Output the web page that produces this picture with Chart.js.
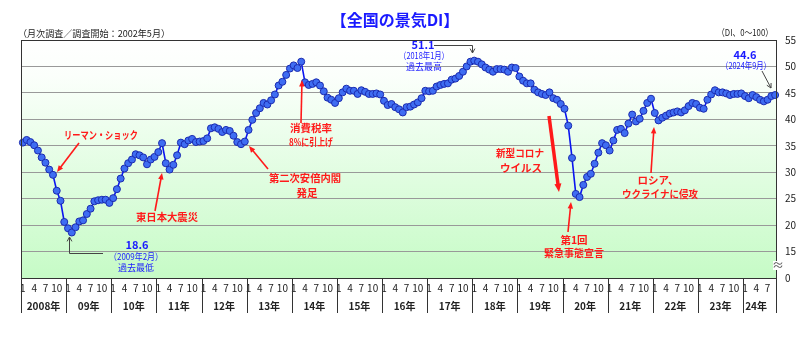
<!DOCTYPE html>
<html>
<head>
<meta charset="utf-8">
<script src="https://cdn.jsdelivr.net/npm/chart.js@4.4.1/dist/chart.umd.min.js"></script>
<style>
  html, body { margin: 0; padding: 0; background: #fff; }
  #wrap { width: 800px; height: 344px; }
</style>
</head>
<body>
<div id="wrap"><canvas id="chart" width="800" height="344"></canvas></div>
<script>
// categories: one point a month, Jan 2008 .. Sep 2024
const startYear = 2008;
const lastMonth = 9;
const yearNames = ['2008年', '09年', '10年', '11年', '12年', '13年', '14年', '15年', '16年',
                   '17年', '18年', '19年', '20年', '21年', '22年', '23年', '24年'];
const monthTicks = [1, 4, 7, 10];
const yZeroLabel = '0';   // the axis is broken: the 10 line is labelled 0

// 景気DI
const diValues = [
  35.6, 36.1, 35.7, 35.1, 34.1, 32.8, 31.8, 30.5, 29.5, 26.5, 24.6, 20.6,   // 2008
  19.4, 18.6, 19.6, 20.7, 20.9, 22.1, 23.1, 24.5, 24.7, 24.8, 24.8, 24.2,   // 2009
  25.1, 26.8, 28.8, 30.7, 31.7, 32.4, 33.4, 33.2, 32.8, 31.5, 32.4, 32.9,   // 2010
  33.8, 35.5, 31.7, 30.5, 31.4, 33.2, 35.6, 35.3, 36.0, 36.3, 35.7, 35.8,   // 2011
  35.9, 36.4, 38.3, 38.5, 38.2, 37.6, 38.0, 37.8, 36.9, 35.7, 35.3, 35.8,   // 2012
  38.0, 39.9, 41.2, 42.1, 43.1, 42.8, 43.6, 44.7, 46.4, 47.1, 48.4, 49.6,   // 2013
  50.2, 49.7, 50.9, 47.0, 46.5, 46.7, 47.0, 46.4, 45.3, 44.1, 43.7, 43.1,   // 2014
  44.0, 45.1, 45.8, 45.4, 45.4, 44.8, 45.5, 45.2, 44.8, 44.8, 44.9, 44.7,   // 2015
  43.5, 42.7, 42.9, 42.3, 41.9, 41.3, 42.3, 42.4, 42.8, 43.2, 44.0, 45.4,   // 2016
  45.3, 45.4, 46.2, 46.5, 46.7, 46.8, 47.5, 47.7, 48.2, 49.0, 50.0, 50.9,   // 2017
  51.1, 50.9, 50.4, 49.8, 49.4, 49.0, 49.5, 49.5, 49.4, 49.0, 49.8, 49.7,   // 2018
  48.1, 47.3, 46.8, 46.8, 45.6, 45.1, 44.8, 44.6, 45.1, 44.0, 43.7, 42.9,   // 2019
  42.0, 38.8, 32.7, 25.9, 25.3, 27.6, 29.1, 29.7, 31.6, 33.7, 35.5, 35.1,   // 2020
  34.1, 36.0, 38.0, 38.2, 37.4, 39.2, 40.9, 39.6, 40.1, 41.6, 43.1, 43.9,   // 2021
  41.2, 39.8, 40.3, 40.7, 41.1, 41.3, 41.5, 41.3, 41.7, 42.5, 43.1, 42.9,   // 2022
  42.2, 42.0, 43.7, 44.7, 45.5, 45.1, 45.1, 44.9, 44.6, 44.8, 44.8, 44.9,   // 2023
  44.4, 44.0, 44.6, 44.2, 43.7, 43.4, 43.7, 44.4, 44.6                      // 2024
];

const monthLabels = [];
for (let y = 0; y < yearNames.length; y++) {
    const n = (y === yearNames.length - 1) ? lastMonth : 12;
    for (let m = 1; m <= n; m++) monthLabels.push(m);
}

const JP = "'Noto Sans CJK JP', 'Noto Sans', sans-serif";
const RED = '#ff1a1a';
const BLUE = '#1a1aff';

function txt(c, s, x, y, size, color, bold, maxW) {
    c.font = (bold ? 'bold ' : '') + size + 'px ' + JP;
    c.fillStyle = color;
    c.textAlign = 'center';
    c.textBaseline = 'middle';
    if (maxW) c.fillText(s, x, y, maxW); else c.fillText(s, x, y);
}

function arrow(c, x1, y1, x2, y2, color, w, head) {
    const a = Math.atan2(y2 - y1, x2 - x1);
    c.strokeStyle = color;
    c.fillStyle = color;
    c.lineWidth = w;
    c.beginPath();
    c.moveTo(x1, y1);
    c.lineTo(x2 - Math.cos(a) * head * 0.8, y2 - Math.sin(a) * head * 0.8);
    c.stroke();
    c.beginPath();
    c.moveTo(x2, y2);
    c.lineTo(x2 - head * Math.cos(a - 0.4), y2 - head * Math.sin(a - 0.4));
    c.lineTo(x2 - head * Math.cos(a + 0.4), y2 - head * Math.sin(a + 0.4));
    c.closePath();
    c.fill();
}

function chevron(c, x, y, a, color) {
    c.strokeStyle = color;
    c.lineWidth = 1;
    c.beginPath();
    c.moveTo(x - 5 * Math.cos(a - 0.5), y - 5 * Math.sin(a - 0.5));
    c.lineTo(x, y);
    c.lineTo(x - 5 * Math.cos(a + 0.5), y - 5 * Math.sin(a + 0.5));
    c.stroke();
}

const backdrop = {
    id: 'backdrop',
    beforeDraw(chart) {
        const { ctx: c, chartArea: a } = chart;
        const g = c.createLinearGradient(0, a.top, 0, a.bottom);
        g.addColorStop(0, '#ffffff');
        g.addColorStop(0.15, '#fbfffb');
        g.addColorStop(1, '#c6fbc6');
        c.save();
        c.fillStyle = g;
        c.fillRect(a.left, a.top, a.right - a.left, a.bottom - a.top);
        c.restore();
    }
};

const decor = {
    id: 'decor',
    afterDraw(chart) {
        const { ctx: c, chartArea: a } = chart;
        const xs = chart.scales.x;
        const half = (xs.getPixelForValue(1) - xs.getPixelForValue(0)) / 2;
        c.save();

        // frame
        c.strokeStyle = '#333';
        c.lineWidth = 1;
        c.strokeRect(a.left + 0.5, a.top + 0.5, a.right - a.left - 1, a.bottom - a.top);

        // year separators and names
        let idx = 0;
        c.strokeStyle = '#333';
        for (let y = 0; y < yearNames.length; y++) {
            const n = (y === yearNames.length - 1) ? lastMonth : 12;
            const x0 = xs.getPixelForValue(idx) - half;
            const x1 = xs.getPixelForValue(idx + n - 1) + half;
            c.beginPath();
            c.moveTo(Math.round(x0) + 0.5, a.bottom);
            c.lineTo(Math.round(x0) + 0.5, a.bottom + 35);
            c.stroke();
            txt(c, yearNames[y], (x0 + Math.min(x1, x0 + 45)) / 2 + (y === yearNames.length - 1 ? -4 : 0), a.bottom + 28, 10, '#222', true);
            idx += n;
        }
        c.beginPath();
        c.moveTo(a.right - 0.5, a.bottom);
        c.lineTo(a.right - 0.5, a.bottom + 35);
        c.stroke();

        // axis break mark
        c.fillStyle = '#fff';
        c.fillRect(a.right - 4, 261, 8, 9);
        txt(c, '≈', a.right + 1, 265, 12, '#555', false);

        // headings
        txt(c, '【全国の景気DI】', 395, 20, 16, BLUE, true);
        txt(c, '（月次調査／調査開始：2002年5月）', 94, 33, 9.5, '#222', false, 152);
        txt(c, '（DI、0～100）', 745, 32, 9.5, '#222', false, 56);

        // record / latest callouts
        txt(c, '18.6', 137, 245, 11, BLUE, true);
        txt(c, '（2009年2月）', 136, 257, 9, BLUE, false, 54);
        txt(c, '過去最低', 136, 268, 9, BLUE, false);
        c.strokeStyle = '#444';
        c.lineWidth = 1;
        c.beginPath();
        c.moveTo(69.5, 237); c.lineTo(69.5, 253.5); c.lineTo(103, 253.5);
        c.stroke();
        chevron(c, 69.5, 237, -Math.PI / 2, '#444');

        txt(c, '51.1', 423, 45, 11, BLUE, true);
        txt(c, '（2018年1月）', 424, 56, 9, BLUE, false, 50);
        txt(c, '過去最高', 424, 67, 9, BLUE, false);
        c.strokeStyle = '#444';
        c.beginPath();
        c.moveTo(434, 45.5); c.lineTo(472.5, 45.5); c.lineTo(472.5, 53);
        c.stroke();
        chevron(c, 472.5, 53, Math.PI / 2, '#444');

        txt(c, '44.6', 745, 55, 11, BLUE, true);
        txt(c, '（2024年9月）', 746, 66, 9, BLUE, false, 50);
        c.strokeStyle = '#444';
        c.beginPath();
        c.moveTo(762, 71); c.lineTo(771, 88);
        c.stroke();
        chevron(c, 771, 88, Math.atan2(17, 9), '#444');

        // events
        txt(c, 'リーマン・ショック', 101, 135, 10.5, RED, true, 74);
        arrow(c, 79, 143, 57, 172, RED, 1.6, 7);
        txt(c, '東日本大震災', 167, 217, 10.5, RED, true, 62);
        arrow(c, 155, 211, 162, 173, RED, 1.6, 7);
        txt(c, '第二次安倍内閣', 305, 178, 10.5, RED, true, 72);
        txt(c, '発足', 307, 193, 10.5, RED, true);
        arrow(c, 268, 169, 249, 146, RED, 1.6, 7);
        txt(c, '消費税率', 311, 128, 10.5, RED, true, 44);
        txt(c, '8%に引上げ', 311, 142, 10.5, RED, true, 44);
        arrow(c, 301, 123, 302, 80, RED, 1.6, 7);
        txt(c, '新型コロナ', 520, 153, 10.5, RED, true, 48);
        txt(c, 'ウイルス', 521, 168, 10.5, RED, true, 42);
        arrow(c, 549, 116, 559, 192, RED, 3.5, 9);
        txt(c, '第1回', 574, 240, 10.5, RED, true);
        txt(c, '緊急事態宣言', 574, 253, 10.5, RED, true, 60);
        arrow(c, 568, 232, 571, 202, RED, 1.6, 7);
        txt(c, 'ロシア、', 658, 180, 10.5, RED, true, 44);
        txt(c, 'ウクライナに侵攻', 660, 194, 10.5, RED, true, 76);
        arrow(c, 651, 173, 654, 127, RED, 1.6, 7);

        c.restore();
    }
};

new Chart(document.getElementById('chart'), {
    type: 'line',
    data: {
        labels: monthLabels,
        datasets: [{
            data: diValues,
            borderColor: '#0a14f0',
            borderWidth: 1.6,
            pointRadius: 3.5,
            pointBackgroundColor: '#3f6df2',
            pointBorderColor: '#1b2bb0',
            pointBorderWidth: 1,
            tension: 0
        }]
    },
    options: {
        responsive: false,
        animation: false,
        devicePixelRatio: 1,
        layout: { padding: { left: 21, top: 40, right: 0, bottom: 0 } },
        plugins: { legend: { display: false }, tooltip: { enabled: false } },
        scales: {
            x: {
                type: 'category',
                offset: true,
                grid: { display: false, drawTicks: false },
                border: { display: false },
                ticks: {
                    autoSkip: false,
                    maxRotation: 0,
                    minRotation: 0,
                    padding: 4,
                    color: '#222',
                    font: { size: 10, family: JP },
                    callback: (v, i) => monthTicks.includes(monthLabels[i]) ? String(monthLabels[i]) : ''
                },
                afterFit: s => { s.height = 66; }
            },
            y: {
                position: 'right',
                min: 10,
                max: 55,
                grid: { color: '#999', drawTicks: false },
                border: { display: false },
                ticks: {
                    stepSize: 5,
                    padding: 8,
                    color: '#222',
                    font: { size: 10, family: JP },
                    callback: v => v === 10 ? yZeroLabel : String(v)
                },
                afterFit: s => { s.width = 23; }
            }
        }
    },
    plugins: [backdrop, decor]
});
</script>
</body>
</html>
